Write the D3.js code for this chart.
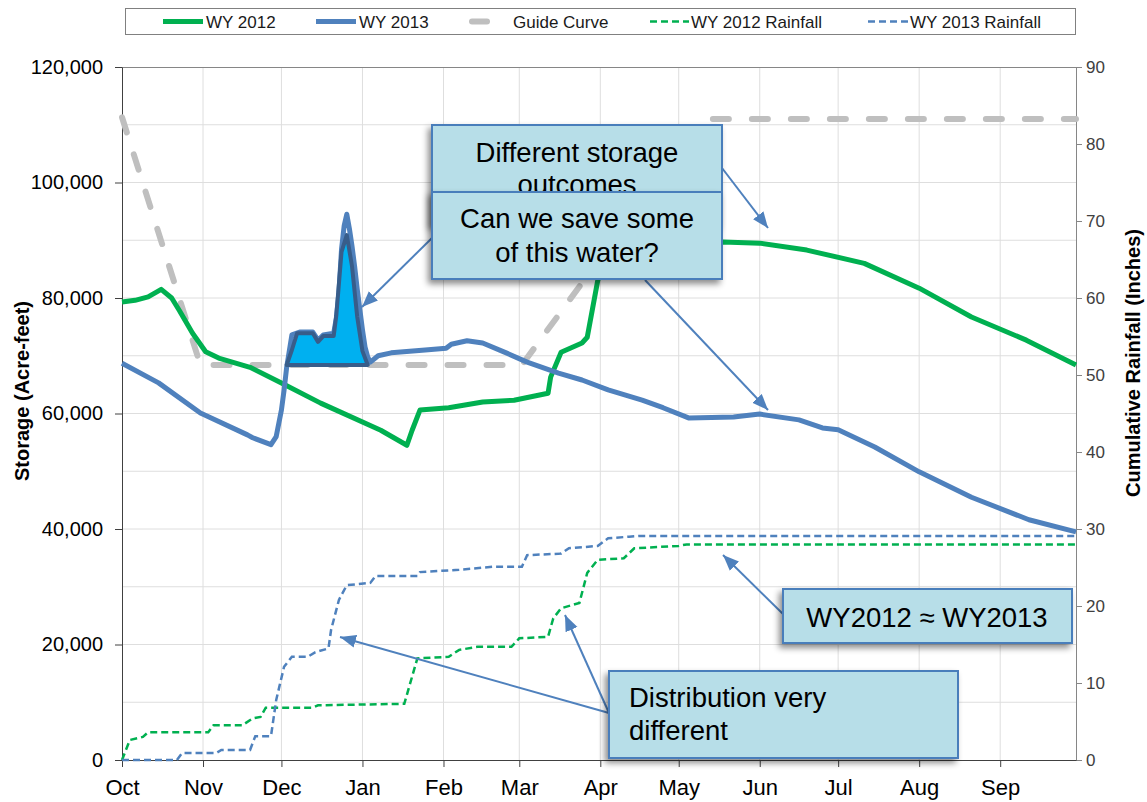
<!DOCTYPE html>
<html>
<head>
<meta charset="utf-8">
<script src="https://cdn.jsdelivr.net/npm/d3@7"></script>
<style>
  body { margin: 0; background: #fff; }
  text { font-family: Arial, "Liberation Sans", sans-serif; }
</style>
</head>
<body>
<div class="chart"></div>
<script>
// ---- data ----
var wy2012Storage = [
  ["2011-10-01", 79300], ["2011-10-06", 79600], ["2011-10-11", 80200], ["2011-10-16", 81500],
  ["2011-10-20", 80000], ["2011-10-23", 77800], ["2011-10-28", 73900], ["2011-11-02", 70700],
  ["2011-11-07", 69600], ["2011-11-19", 68000], ["2011-12-01", 65300], ["2011-12-16", 61800],
  ["2012-01-08", 57100], ["2012-01-13", 55800], ["2012-01-18", 54500], ["2012-01-20", 57100],
  ["2012-01-23", 60600], ["2012-02-03", 61000], ["2012-02-16", 62000], ["2012-02-28", 62300],
  ["2012-03-12", 63500], ["2012-03-13", 66300], ["2012-03-17", 70600], ["2012-03-25", 72200],
  ["2012-03-27", 73200], ["2012-03-31", 83000], ["2012-04-03", 87500], ["2012-04-09", 89300],
  ["2012-05-18", 89700], ["2012-06-01", 89500], ["2012-06-19", 88300], ["2012-07-11", 86000],
  ["2012-08-01", 81700], ["2012-08-21", 76700], ["2012-09-11", 72700], ["2012-09-30", 68400]
];

var wy2013Storage = [
  ["2011-10-01", 68700], ["2011-10-15", 65300], ["2011-10-31", 60100], ["2011-11-18", 56300],
  ["2011-11-20", 55800], ["2011-11-27", 54600], ["2011-11-29", 56000], ["2011-12-01", 60600],
  ["2011-12-02", 64000], ["2011-12-03", 68000], ["2011-12-05", 73600], ["2011-12-08", 74100],
  ["2011-12-13", 74100], ["2011-12-15", 72700], ["2011-12-17", 73600], ["2011-12-21", 73900],
  ["2011-12-22", 76500], ["2011-12-23", 81000], ["2011-12-24", 88500], ["2011-12-25", 92500],
  ["2011-12-26", 94500], ["2011-12-27", 92000], ["2011-12-28", 89000], ["2011-12-29", 85500],
  ["2011-12-30", 81500], ["2011-12-31", 78000], ["2012-01-01", 74500], ["2012-01-02", 71500],
  ["2012-01-03", 69800], ["2012-01-04", 68900], ["2012-01-07", 70000], ["2012-01-12", 70500],
  ["2012-01-25", 71000], ["2012-02-02", 71300], ["2012-02-04", 72000], ["2012-02-10", 72600],
  ["2012-02-16", 72200], ["2012-02-25", 70500], ["2012-03-04", 68900], ["2012-03-16", 67000],
  ["2012-03-25", 65800], ["2012-04-04", 64100], ["2012-04-17", 62300], ["2012-04-25", 61000],
  ["2012-05-05", 59200], ["2012-05-22", 59400], ["2012-06-01", 59900], ["2012-06-16", 58900],
  ["2012-06-25", 57500], ["2012-07-01", 57200], ["2012-07-15", 54200], ["2012-08-01", 49900],
  ["2012-08-21", 45500], ["2012-09-12", 41600], ["2012-09-30", 39500]
];

var guideCurve = [
  ["2011-10-01", 111300], ["2011-10-31", 68400], ["2012-03-02", 68400],
  ["2012-05-10", 111000], ["2012-09-30", 111000]
];

var wy2012Rainfall = [
  ["2011-10-01", 0], ["2011-10-04", 2.6], ["2011-10-09", 3.0], ["2011-10-11", 3.6],
  ["2011-11-03", 3.6], ["2011-11-05", 4.5], ["2011-11-16", 4.5], ["2011-11-20", 5.4],
  ["2011-11-23", 5.6], ["2011-11-25", 6.8], ["2011-12-13", 6.8], ["2011-12-15", 7.1],
  ["2012-01-17", 7.3], ["2012-01-22", 13.2], ["2012-02-03", 13.4], ["2012-02-07", 14.3],
  ["2012-02-14", 14.7], ["2012-02-27", 14.7], ["2012-03-01", 15.8], ["2012-03-12", 16.0],
  ["2012-03-14", 18.4], ["2012-03-17", 19.7], ["2012-03-24", 20.4], ["2012-03-27", 24.3],
  ["2012-03-31", 26.0], ["2012-04-10", 26.2], ["2012-04-14", 27.5], ["2012-05-01", 27.8],
  ["2012-05-04", 28.0], ["2012-09-30", 28.0]
];

var wy2013Rainfall = [
  ["2011-10-01", 0], ["2011-10-22", 0], ["2011-10-24", 0.9], ["2011-11-06", 0.9],
  ["2011-11-08", 1.3], ["2011-11-19", 1.3], ["2011-11-21", 3.1], ["2011-11-27", 3.1],
  ["2011-11-29", 7.8], ["2011-12-02", 12.1], ["2011-12-05", 13.4], ["2011-12-11", 13.4],
  ["2011-12-14", 14.0], ["2011-12-19", 14.5], ["2011-12-20", 16.9], ["2011-12-23", 20.8],
  ["2011-12-26", 22.7], ["2012-01-04", 23.0], ["2012-01-06", 23.9], ["2012-01-22", 23.9],
  ["2012-01-23", 24.4], ["2012-02-07", 24.7], ["2012-02-20", 25.1], ["2012-03-02", 25.1],
  ["2012-03-04", 26.6], ["2012-03-17", 26.8], ["2012-03-20", 27.5], ["2012-03-31", 27.8],
  ["2012-04-04", 28.8], ["2012-04-12", 29.0], ["2012-04-16", 29.1], ["2012-09-30", 29.1]
];

// the shaded "water we could save" shape above the guide level
var spillShape = [
  ["2011-12-03", 68400], ["2011-12-05", 71000], ["2011-12-07", 73900], ["2011-12-13", 73900],
  ["2011-12-15", 72400], ["2011-12-17", 73400], ["2011-12-21", 73400], ["2011-12-22", 77000],
  ["2011-12-23", 82500], ["2011-12-24", 88000], ["2011-12-26", 90900], ["2011-12-28", 85500],
  ["2011-12-30", 76700], ["2012-01-01", 70800], ["2012-01-03", 68400]
];
var spillBase = 68400;

var storageTicks = [0, 20000, 40000, 60000, 80000, 100000, 120000];
var rainTicks = [0, 10, 20, 30, 40, 50, 60, 70, 80, 90];
var legendLabels = ["WY 2012", "WY 2013", "Guide Curve", "WY 2012 Rainfall", "WY 2013 Rainfall"];

// ---- layout ----
var svgWidth = 1147;
var svgHeight = 802;
var margin = { top: 67, right: 71, bottom: 42, left: 122 };
var width = svgWidth - margin.left - margin.right;
var height = svgHeight - margin.top - margin.bottom;

var green = "#00B050";
var blue = "#4F81BD";
var gray = "#BFBFBF";
var boxFill = "#B7DEE8";
var boxStroke = "#4A7EBB";

var parse = function(s) { return new Date(s + "T00:00"); };
var toPoints = function(arr) { return arr.map(function(d) { return { date: parse(d[0]), value: d[1] }; }); };

var svg = d3.select(".chart")
  .append("svg")
  .attr("width", svgWidth)
  .attr("height", svgHeight);

var defs = svg.append("defs");
defs.append("marker")
  .attr("id", "arrow")
  .attr("markerUnits", "userSpaceOnUse")
  .attr("viewBox", "0 -7 16 14")
  .attr("refX", 16)
  .attr("refY", 0)
  .attr("markerWidth", 16)
  .attr("markerHeight", 14)
  .attr("orient", "auto")
  .append("path")
  .attr("d", "M0,-6.5L16,0L0,6.5Z")
  .attr("fill", blue);

var shadow = defs.append("filter")
  .attr("id", "shadow")
  .attr("x", "-10%").attr("y", "-20%")
  .attr("width", "120%").attr("height", "150%");
shadow.append("feDropShadow")
  .attr("dx", -3).attr("dy", 4)
  .attr("stdDeviation", 3)
  .attr("flood-color", "#000")
  .attr("flood-opacity", 0.45);

var chartGroup = svg.append("g")
  .attr("transform", `translate(${margin.left}, ${margin.top})`);

var xScale = d3.scaleTime()
  .domain([parse("2011-10-01"), parse("2012-09-30")])
  .range([0, width]);

var yLeft = d3.scaleLinear().domain([0, 120000]).range([height, 0]);
var yRight = d3.scaleLinear().domain([0, 90]).range([height, 0]);

var monthStarts = d3.timeMonth.range(parse("2011-10-01"), parse("2012-10-01"));

// gridlines
chartGroup.append("g")
  .selectAll("line")
  .data(d3.range(10000, 120000, 10000))
  .enter()
  .append("line")
  .attr("x1", 0).attr("x2", width)
  .attr("y1", d => yLeft(d)).attr("y2", d => yLeft(d))
  .attr("stroke", "#DEDEDE");

chartGroup.append("g")
  .selectAll("line")
  .data(monthStarts.slice(1))
  .enter()
  .append("line")
  .attr("x1", d => xScale(d)).attr("x2", d => xScale(d))
  .attr("y1", 0).attr("y2", height)
  .attr("stroke", "#DEDEDE");

// top border
chartGroup.append("line")
  .attr("x1", 0).attr("x2", width)
  .attr("y1", 0.5).attr("y2", 0.5)
  .attr("stroke", "#868686");

// axes
var leftAxis = d3.axisLeft(yLeft)
  .tickValues(storageTicks)
  .tickFormat(d3.format(","))
  .tickSize(7)
  .tickSizeOuter(0)
  .tickPadding(12);

var rightAxis = d3.axisRight(yRight)
  .tickValues(rainTicks)
  .tickSize(6)
  .tickSizeOuter(0)
  .tickPadding(4);

var bottomAxis = d3.axisBottom(xScale)
  .tickValues(monthStarts)
  .tickFormat(d3.timeFormat("%b"))
  .tickSize(7)
  .tickSizeOuter(0)
  .tickPadding(12);

var gLeft = chartGroup.append("g").call(leftAxis);
gLeft.selectAll("path, line").attr("stroke", "#404040");
gLeft.selectAll("text").attr("font-size", "20px").attr("fill", "#000");

var gRight = chartGroup.append("g")
  .attr("transform", `translate(${width}, 0)`)
  .call(rightAxis);
gRight.selectAll("path, line").attr("stroke", "#868686");
gRight.selectAll("text").attr("font-size", "17px").attr("fill", "#404040");

var gBottom = chartGroup.append("g")
  .attr("transform", `translate(0, ${height})`)
  .call(bottomAxis);
gBottom.selectAll("path, line").attr("stroke", "#404040");
gBottom.selectAll("text").attr("font-size", "22px").attr("fill", "#000");

gLeft.select(".domain").raise();

// axis titles
svg.append("text")
  .attr("transform", "translate(22, 391) rotate(-90)")
  .attr("text-anchor", "middle")
  .attr("dominant-baseline", "central")
  .attr("font-size", "20px")
  .attr("font-weight", "bold")
  .text("Storage (Acre-feet)");

svg.append("text")
  .attr("transform", "translate(1133, 363) rotate(-90)")
  .attr("text-anchor", "middle")
  .attr("dominant-baseline", "central")
  .attr("font-size", "20px")
  .attr("font-weight", "bold")
  .text("Cumulative Rainfall (Inches)");

// series
var storageLine = d3.line()
  .x(d => xScale(d.date))
  .y(d => yLeft(d.value));

var rainLine = d3.line()
  .x(d => xScale(d.date))
  .y(d => yRight(d.value));

chartGroup.append("path")
  .datum(toPoints(guideCurve))
  .attr("d", storageLine)
  .attr("fill", "none")
  .attr("stroke", gray)
  .attr("stroke-width", 6)
  .attr("stroke-linecap", "round")
  .attr("stroke-dasharray", "16,23");

chartGroup.append("path")
  .datum(toPoints(wy2012Rainfall))
  .attr("d", rainLine)
  .attr("fill", "none")
  .attr("stroke", green)
  .attr("stroke-width", 2.5)
  .attr("stroke-dasharray", "7,4");

chartGroup.append("path")
  .datum(toPoints(wy2013Rainfall))
  .attr("d", rainLine)
  .attr("fill", "none")
  .attr("stroke", blue)
  .attr("stroke-width", 2.5)
  .attr("stroke-dasharray", "7,4");

chartGroup.append("path")
  .datum(toPoints(wy2012Storage))
  .attr("d", storageLine)
  .attr("fill", "none")
  .attr("stroke", green)
  .attr("stroke-width", 5)
  .attr("stroke-linejoin", "round");

chartGroup.append("path")
  .datum(toPoints(wy2013Storage))
  .attr("d", storageLine)
  .attr("fill", "none")
  .attr("stroke", blue)
  .attr("stroke-width", 5)
  .attr("stroke-linejoin", "round");

var spillArea = d3.area()
  .x(d => xScale(d.date))
  .y0(yLeft(spillBase))
  .y1(d => yLeft(d.value));

chartGroup.append("path")
  .datum(toPoints(spillShape))
  .attr("d", spillArea)
  .attr("fill", "#00B0F0")
  .attr("stroke", "#385D8A")
  .attr("stroke-width", 4)
  .attr("stroke-linejoin", "round");

// legend
var legend = svg.append("g");
legend.append("rect")
  .attr("x", 125.5).attr("y", 8.5)
  .attr("width", 950).attr("height", 26)
  .attr("fill", "#fff")
  .attr("stroke", "#808080");

var legendStyles = [
  { x1: 163, x2: 203, tx: 206, color: green, w: 5, dash: null, cap: "butt" },
  { x1: 316, x2: 356, tx: 359, color: blue, w: 5, dash: null, cap: "butt" },
  { x1: 472, x2: 487, tx: 513, color: gray, w: 6, dash: null, cap: "round" },
  { x1: 650, x2: 689, tx: 691, color: green, w: 2.5, dash: "7,4", cap: "butt" },
  { x1: 868, x2: 908, tx: 910, color: blue, w: 2.5, dash: "7,4", cap: "butt" }
];

legendLabels.forEach(function(label, i) {
  var s = legendStyles[i];
  legend.append("line")
    .attr("x1", s.x1).attr("x2", s.x2)
    .attr("y1", 21.5).attr("y2", 21.5)
    .attr("stroke", s.color)
    .attr("stroke-width", s.w)
    .attr("stroke-linecap", s.cap)
    .attr("stroke-dasharray", s.dash);
  legend.append("text")
    .attr("x", s.tx).attr("y", 27.5)
    .attr("font-size", "17px")
    .attr("fill", "#1a1a1a")
    .text(label);
});

// annotations
var notes = svg.append("g");

function arrow(x1, y1, x2, y2) {
  notes.append("line")
    .attr("x1", x1).attr("y1", y1)
    .attr("x2", x2).attr("y2", y2)
    .attr("stroke", blue)
    .attr("stroke-width", 2)
    .attr("marker-end", "url(#arrow)");
}

function box(x, y, w, h, lines, tx, baselines, anchor) {
  var g = notes.append("g");
  g.append("rect")
    .attr("x", x).attr("y", y)
    .attr("width", w).attr("height", h)
    .attr("fill", boxFill)
    .attr("stroke", boxStroke)
    .attr("stroke-width", 2)
    .attr("filter", "url(#shadow)");
  lines.forEach(function(t, i) {
    g.append("text")
      .attr("x", tx).attr("y", baselines[i])
      .attr("text-anchor", anchor)
      .attr("font-size", "27.5px")
      .attr("fill", "#000")
      .text(t);
  });
  return g;
}

arrow(722, 168, 768, 228);
box(432, 125, 290, 100, ["Different storage", "outcomes"], 577, [162, 194], "middle");
arrow(433, 237, 362, 307);
arrow(645, 280, 768, 410);
box(432, 192, 290, 87, ["Can we save some", "of this water?"], 577, [228, 262], "middle");

arrow(783, 614, 723, 555);
box(783, 589, 289, 54, ["WY2012 \u2248 WY2013"], 927, [627], "middle");

arrow(609, 713, 340, 637);
arrow(609, 713, 565, 615);
box(609, 671, 349, 87, ["Distribution very", "different"], 629, [707, 740], "start");
</script>
</body>
</html>
